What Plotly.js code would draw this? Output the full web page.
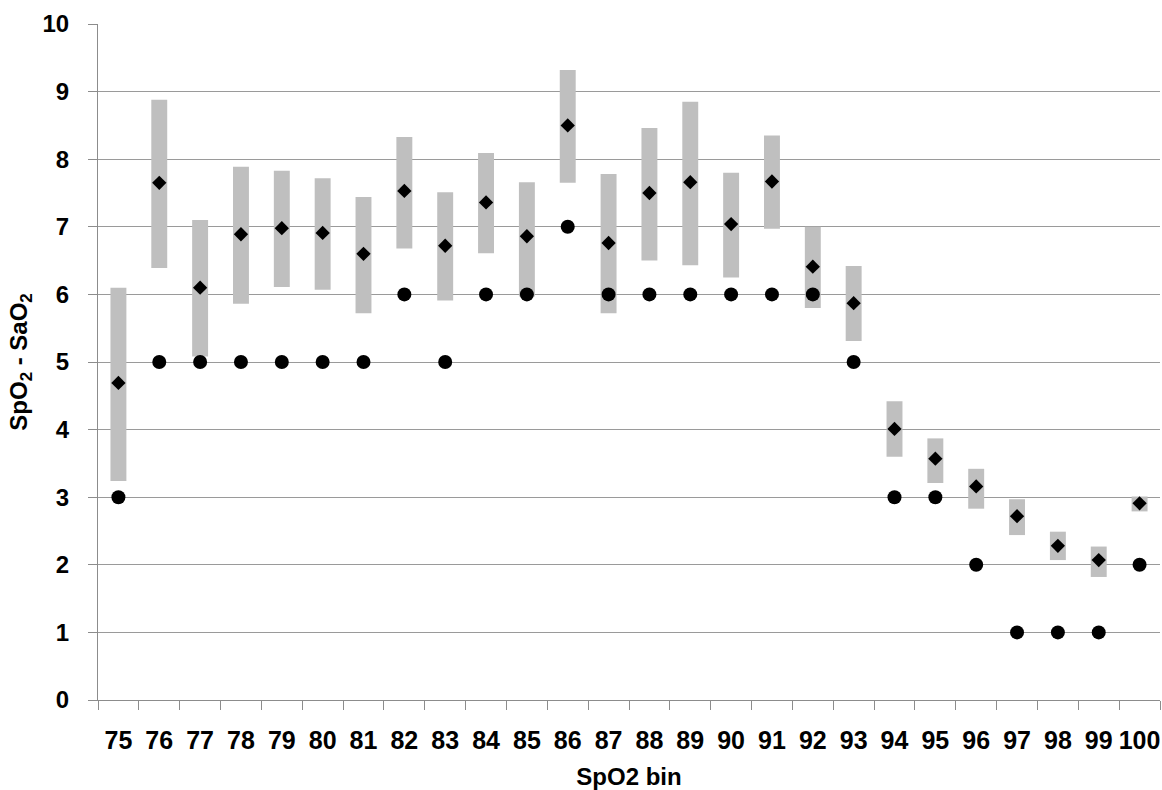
<!DOCTYPE html>
<html>
<head>
<meta charset="utf-8">
<script src="https://cdn.plot.ly/plotly-3.0.1.min.js"></script>
<style>
html,body{margin:0;padding:0;background:#fff;}
#chart{width:1162px;height:790px;}
</style>
</head>
<body>
<div id="chart"></div>
<script>
// SpO2 bins (categories)
const bins = ["75","76","77","78","79","80","81","82","83","84","85","86","87","88","89","90","91","92","93","94","95","96","97","98","99","100"];
// Gray range bars: lower and upper ends
const rangeLow  = [3.24, 6.39, 5.08, 5.86, 6.11, 6.07, 5.72, 6.68, 5.91, 6.61, 5.97, 7.65, 5.72, 6.50, 6.43, 6.25, 6.97, 5.80, 5.31, 3.60, 3.21, 2.83, 2.44, 2.07, 1.82, 2.79];
const rangeHigh = [6.10, 8.88, 7.10, 7.89, 7.83, 7.72, 7.44, 8.33, 7.51, 8.09, 7.66, 9.32, 7.78, 8.46, 8.85, 7.80, 8.35, 7.00, 6.42, 4.42, 3.87, 3.42, 2.97, 2.49, 2.27, 3.01];
// Diamonds (mean)
const meanBias  = [4.69, 7.65, 6.10, 6.89, 6.98, 6.91, 6.60, 7.53, 6.72, 7.36, 6.86, 8.50, 6.76, 7.50, 7.66, 7.04, 7.67, 6.41, 5.87, 4.01, 3.57, 3.16, 2.72, 2.28, 2.07, 2.91];
// Circles (median)
const medianBias = [3, 5, 5, 5, 5, 5, 5, 6, 5, 6, 6, 7, 6, 6, 6, 6, 6, 6, 5, 3, 3, 2, 1, 1, 1, 2];
const yTicks = [0,1,2,3,4,5,6,7,8,9,10];

const barHeights = rangeHigh.map((h, i) => h - rangeLow[i]);

const traces = [
  {
    type: "bar",
    x: bins,
    y: barHeights,
    base: rangeLow,
    width: 0.39,
    marker: {color: "#bfbfbf", line: {width: 0}},
    hoverinfo: "skip",
    showlegend: false
  },
  {
    type: "scatter",
    mode: "markers",
    x: bins,
    y: medianBias,
    marker: {symbol: "circle", size: 14, color: "#000000"},
    showlegend: false
  },
  {
    type: "scatter",
    mode: "markers",
    x: bins,
    y: meanBias,
    marker: {symbol: "diamond", size: 11, color: "#000000"},
    showlegend: false
  }
];

const layout = {
  width: 1162,
  height: 790,
  margin: {l: 98, r: 2, t: 24, b: 90},
  paper_bgcolor: "#ffffff",
  plot_bgcolor: "#ffffff",
  font: {family: "Liberation Sans, Arial, sans-serif", color: "#000000"},
  xaxis: {
    type: "category",
    range: [-0.5, 25.5],
    tickson: "boundaries",
    ticks: "outside",
    ticklen: 9,
    tickcolor: "#8c8c8c",
    tickwidth: 1,
    tickangle: 0,
    ticklabelstandoff: 18,
    showgrid: false,
    showline: true,
    linecolor: "#8c8c8c",
    linewidth: 1,
    zeroline: false,
    tickfont: {family: "Liberation Sans, Arial, sans-serif", size: 25, color: "#000000", weight: "bold"},
    title: {text: "<b>SpO2 bin</b>", font: {family: "Liberation Sans, Arial, sans-serif", size: 24, color: "#000000"}, standoff: 16}
  },
  yaxis: {
    range: [0, 10],
    tickvals: yTicks,
    ticktext: yTicks.map(String),
    ticks: "outside",
    ticklen: 9,
    tickcolor: "#8c8c8c",
    ticklabelstandoff: 14,
    showgrid: true,
    gridcolor: "#9a9a9a",
    gridwidth: 1,
    showline: true,
    linecolor: "#8c8c8c",
    linewidth: 1,
    zeroline: false,
    tickfont: {family: "Liberation Sans, Arial, sans-serif", size: 24, color: "#000000", weight: "bold"},
    title: {text: "<b>SpO<sub>2</sub> - SaO<sub>2</sub></b>", font: {family: "Liberation Sans, Arial, sans-serif", size: 24, color: "#000000"}, standoff: 8}
  },
  bargap: 0.6
};

Plotly.newPlot("chart", traces, layout, {displayModeBar: false, staticPlot: true});
</script>
</body>
</html>
